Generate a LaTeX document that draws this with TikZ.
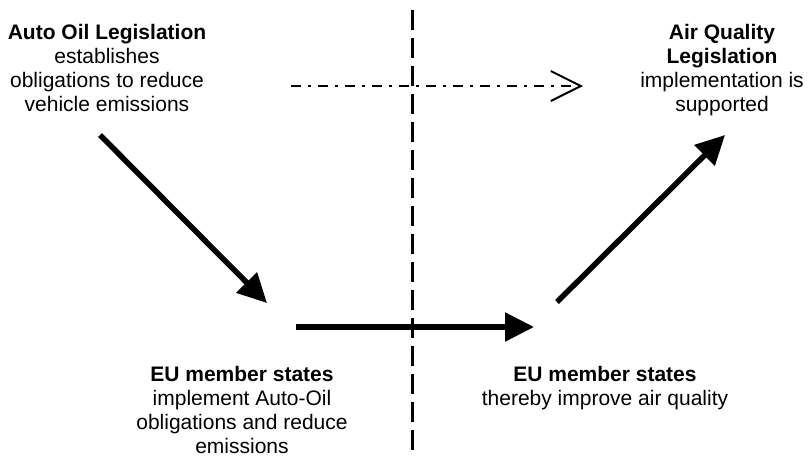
\documentclass[tikz,border=0pt]{standalone}
\usepackage{fontspec}
\setmainfont{Liberation Sans}
\usetikzlibrary{positioning, arrows.meta}

\begin{document}
\begin{tikzpicture}[x=1pt, y=-1pt,
  txt/.style={align=center, inner sep=0pt, anchor=north,
    font=\fontsize{21}{24}\selectfont},
  bigarrow/.style={line width=5.5pt, -{Triangle[length=29pt,width=28pt]}},
  hintarrow/.style={line width=2pt, dash pattern=on 10pt off 7pt on 3pt off 7pt,
    -{Straight Barb[length=30pt,width=30pt,line width=2pt]}}]
  \useasboundingbox (0,0) rectangle (808,459);

  % the four statements
  \node[txt] (autooil) at (107,24) {\textbf{Auto Oil Legislation}\\establishes\\obligations to reduce\\vehicle emissions};
  \node[txt] (airq) at (722,24) {\textbf{Air Quality}\\\textbf{Legislation}\\implementation is\\supported};
  \node[txt] (msleft) at (242,366) {\textbf{EU member states}\\implement Auto-Oil\\obligations and reduce\\emissions};
  \node[txt] (msright) at (605,366) {\textbf{EU member states}\\thereby improve air quality};

  % arrow ends
  \coordinate (a1) at (100,135);
  \coordinate (a2) at (267,303);
  \coordinate (b1) at (296,327);
  \coordinate (b2) at (534,327);
  \coordinate (c1) at (557,302);
  \coordinate (c2) at (725,135);
  \coordinate (d1) at (291,86);
  \coordinate (d2) at (583,86);
  \coordinate (top) at (412.5,10);
  \coordinate (bottom) at (412.5,454);

  % divide
  \draw[line width=2.5pt, dash pattern=on 20pt off 8pt] (top) -- (bottom);

  \draw[hintarrow] (d1) -- (d2);
  \draw[bigarrow] (a1) -- (a2);
  \draw[bigarrow] (b1) -- (b2);
  \draw[bigarrow] (c1) -- (c2);
\end{tikzpicture}
\end{document}
